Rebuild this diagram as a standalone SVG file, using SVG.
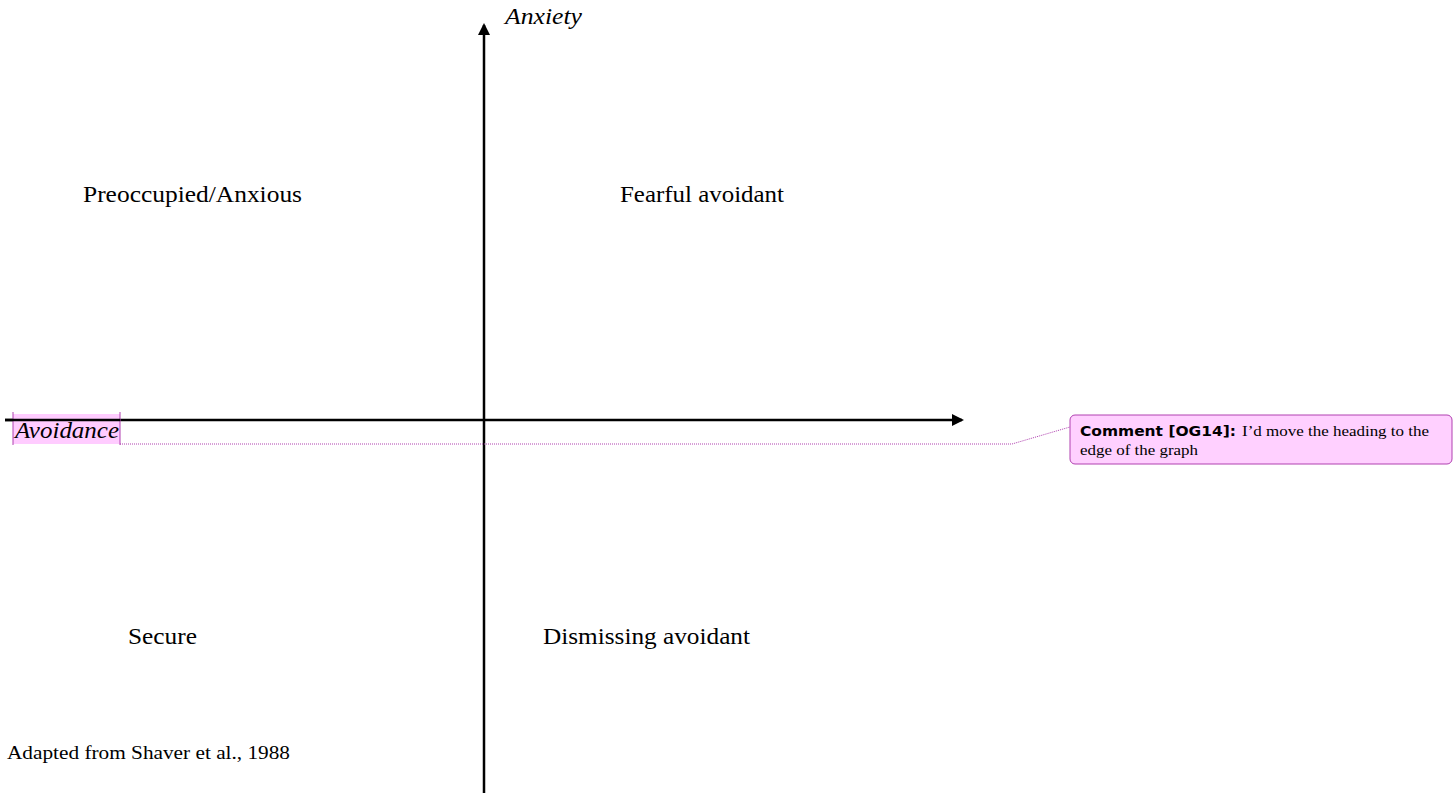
<svg xmlns="http://www.w3.org/2000/svg" width="1453" height="793" viewBox="0 0 1453 793">
<style>
.t{font-family:"Liberation Serif",serif;fill:#000}
.lab{font-size:23px}
.it{font-style:italic}
.ax{stroke:#000;stroke-width:2.5;fill:none}
.cm{stroke:#b040b0;stroke-width:1;fill:none}
</style>
<defs>
<marker id="arr" markerWidth="12" markerHeight="12" refX="10" refY="6" orient="auto" markerUnits="userSpaceOnUse">
<path d="M0,0 L12,6 L0,12 Z" fill="#000"/>
</marker>
</defs>
<rect width="1453" height="793" fill="#fff"/>
<g id="connectors">
<line class="ax" x1="484" y1="793" x2="484" y2="25" marker-end="url(#arr)"/>
<line class="ax" x1="5" y1="420" x2="962" y2="420" marker-end="url(#arr)"/>
<polyline class="cm" stroke-dasharray="1,1" points="120,444 1012,444 1070,427"/>
</g>
<g id="avoidance">
<rect x="13" y="414" width="107" height="30" fill="#ffccff"/>
<line class="cm" x1="13" y1="412" x2="13" y2="445"/>
<line class="cm" x1="120" y1="412" x2="120" y2="445"/>
<line class="ax" x1="5" y1="420" x2="120" y2="420"/>
<text class="t lab it" x="15" y="438" textLength="104" lengthAdjust="spacingAndGlyphs">Avoidance</text>
</g>
<g id="anxiety"><text class="t lab it" x="505" y="24" textLength="77" lengthAdjust="spacingAndGlyphs">Anxiety</text></g>
<g id="preoccupied"><text class="t lab" x="83" y="202" textLength="219" lengthAdjust="spacingAndGlyphs">Preoccupied/Anxious</text></g>
<g id="fearful"><text class="t lab" x="620" y="202" textLength="164" lengthAdjust="spacingAndGlyphs">Fearful avoidant</text></g>
<g id="secure"><text class="t lab" x="128" y="644" textLength="69" lengthAdjust="spacingAndGlyphs">Secure</text></g>
<g id="dismissing"><text class="t lab" x="543" y="644" textLength="207" lengthAdjust="spacingAndGlyphs">Dismissing avoidant</text></g>
<g id="source"><text class="t" x="7" y="759" style="font-size:19px" textLength="283" lengthAdjust="spacingAndGlyphs">Adapted from Shaver et al., 1988</text></g>
<g id="comment">
<rect x="1070" y="415" width="382" height="49" rx="5" fill="#ffd0ff" stroke="#b040b0" stroke-width="1"/>
<text x="1080" y="436" font-family="'DejaVu Sans',Verdana,sans-serif" font-weight="bold" style="font-size:14px" textLength="156" lengthAdjust="spacingAndGlyphs">Comment [OG14]:</text>
<text class="t" x="1242" y="436" style="font-size:15px" textLength="187" lengthAdjust="spacingAndGlyphs">I’d move the heading to the</text>
<text class="t" x="1080" y="455" style="font-size:15px" textLength="118" lengthAdjust="spacingAndGlyphs">edge of the graph</text>
</g>
</svg>
